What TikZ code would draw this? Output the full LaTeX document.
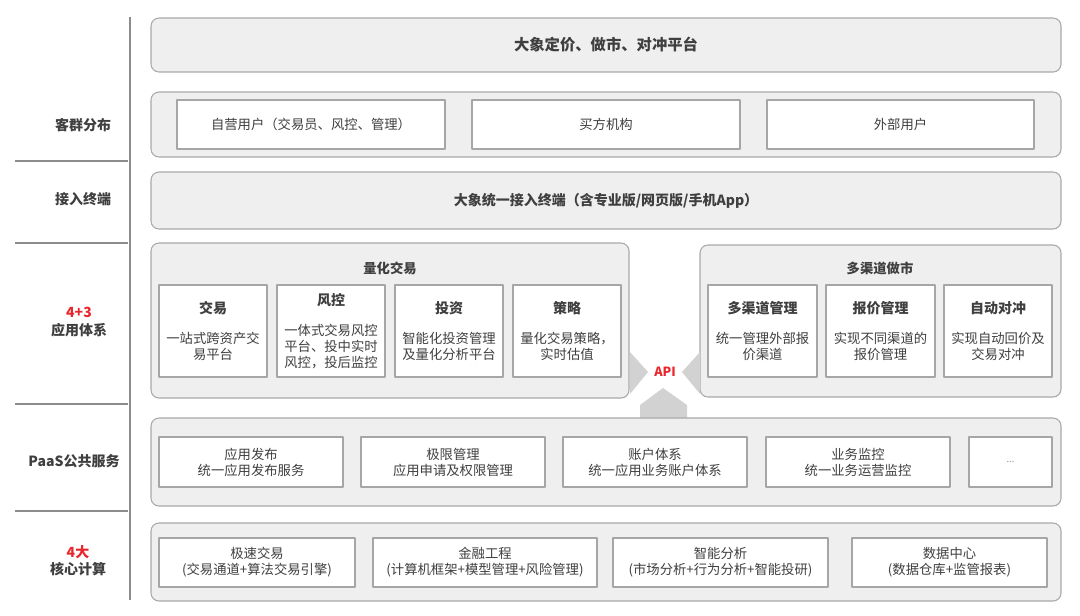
\documentclass[tikz,border=0pt]{standalone}
\usepackage{fontspec}
\setmainfont{Noto Sans CJK SC}
\usetikzlibrary{fit}
\definecolor{inkgray}{HTML}{3F3F3F}
\definecolor{panelfill}{HTML}{EFEFEF}
\definecolor{panelline}{HTML}{A9A9A9}
\definecolor{cellline}{HTML}{A6A6A6}
\definecolor{rulegray}{HTML}{8C8C8C}
\definecolor{apigray}{HTML}{D2D2D2}
\definecolor{hired}{HTML}{E8262B}
\begin{document}
\begin{tikzpicture}[x=0.75pt, y=-0.75pt, line join=round,
    panel/.style={draw=panelline, fill=panelfill, line width=0.8pt, rounded corners=6pt, inner sep=0pt},
    cell/.style={draw=cellline, fill=white, line width=0.8pt, inner sep=0pt},
    ttl/.style={font=\fontsize{10.5}{13}\selectfont\bfseries, text=inkgray},
    side/.style={font=\fontsize{10.5}{13}\selectfont\bfseries, text=inkgray, align=center},
    lbl/.style={font=\fontsize{10}{12}\selectfont, text=inkgray, align=center}]
  \path[use as bounding box] (0,0) rectangle (1080,615);
  % left column
  \draw[rulegray, line width=1.1pt] (130,17) -- (130,600);
  \foreach \y in {161,243,404,511} \draw[rulegray, line width=1.1pt] (15,\y) -- (128,\y);
  \node[side] (sKunden) at (83,125) {客群分布};
  \node[side] (sTerm) at (83,199) {接入终端};
  \node[side] (sApp) at (79,322) {{\color{hired}4+3}\\应用体系};
  \node[side] (sPaas) at (74,461) {PaaS公共服务};
  \node[side] (sCore) at (78,561) {{\color{hired}4大}\\核心计算};
  % platform
  \node[panel, fit={(151,18) (1061,72)}] (plat) {};
  \node[ttl, font=\fontsize{11.5}{14}\selectfont\bfseries] at (plat.center) {大象定价、做市、对冲平台};
  % customers
  \node[panel, fit={(151,92) (1061,157)}] (kunden) {};
  \node[cell, fit={(177,100) (445,149)}] (k1) {};
  \node[cell, fit={(472,100) (740,149)}] (k2) {};
  \node[cell, fit={(767,100) (1034,149)}] (k3) {};
  \node[lbl] at (k1.center) {自营用户（交易员、风控、管理）};
  \node[lbl] at (k2.center) {买方机构};
  \node[lbl] at (k3.center) {外部用户};
  % terminal
  \node[panel, fit={(151,172) (1061,229)}] (term) {};
  \node[ttl] at (term.center) {大象统一接入终端（含专业版/网页版/手机App）};
  % quant trading
  \node[panel, fit={(151,243) (629,398)}] (quant) {};
  \node[ttl, font=\fontsize{10}{12}\selectfont\bfseries] at (390,268) {量化交易};
  \node[cell, fit={(159,285) (267,377)}] (q1) {};
  \node[cell, fit={(277,285) (385,377)}] (q2) {};
  \node[cell, fit={(395,285) (503,377)}] (q3) {};
  \node[cell, fit={(513,285) (621,377)}] (q4) {};
  \node[lbl] at (q1.center) {{\bfseries\fontsize{10.5}{12}\selectfont 交易}\\[10.5pt]一站式跨资产交\\易平台};
  \node[lbl] at (q2.center) {{\bfseries\fontsize{10.5}{12}\selectfont 风控}\\[10.5pt]一体式交易风控\\平台、投中实时\\风控，投后监控};
  \node[lbl] at (q3.center) {{\bfseries\fontsize{10.5}{12}\selectfont 投资}\\[10.5pt]智能化投资管理\\及量化分析平台};
  \node[lbl] at (q4.center) {{\bfseries\fontsize{10.5}{12}\selectfont 策略}\\[10.5pt]量化交易策略，\\实时估值};
  % market making
  \node[panel, fit={(700,245) (1061,397)}] (mm) {};
  \node[ttl, font=\fontsize{10}{12}\selectfont\bfseries] at (880,268) {多渠道做市};
  \node[cell, fit={(708,285) (817,377)}] (m1) {};
  \node[cell, fit={(826,285) (935,377)}] (m2) {};
  \node[cell, fit={(944,285) (1052,377)}] (m3) {};
  \node[lbl] at (m1.center) {{\bfseries\fontsize{10.5}{12}\selectfont 多渠道管理}\\[10.5pt]统一管理外部报\\价渠道};
  \node[lbl] at (m2.center) {{\bfseries\fontsize{10.5}{12}\selectfont 报价管理}\\[10.5pt]实现不同渠道的\\报价管理};
  \node[lbl] at (m3.center) {{\bfseries\fontsize{10.5}{12}\selectfont 自动对冲}\\[10.5pt]实现自动回价及\\交易对冲};
  % API
  \coordinate (aL1) at (630,352); \coordinate (aL2) at (648,372); \coordinate (aL3) at (630,394);
  \coordinate (aR1) at (700,352); \coordinate (aR2) at (682,372); \coordinate (aR3) at (700,394);
  \coordinate (aB1) at (640,418); \coordinate (aB2) at (640,405); \coordinate (aB3) at (663,388);
  \coordinate (aB4) at (687,405); \coordinate (aB5) at (687,418);
  \fill[apigray] (aL1) -- (aL2) -- (aL3) -- cycle;
  \fill[apigray] (aR1) -- (aR2) -- (aR3) -- cycle;
  \fill[apigray] (aB1) -- (aB2) -- (aB3) -- (aB4) -- (aB5) -- cycle;
  \node[font=\fontsize{9.5}{11}\selectfont\bfseries, text=hired] (api) at (665,372) {API};
  % paas
  \node[panel, fit={(151,418) (1061,506)}] (paas) {};
  \node[cell, fit={(159,437) (343,487)}] (p1) {};
  \node[cell, fit={(361,437) (545,487)}] (p2) {};
  \node[cell, fit={(563,437) (747,487)}] (p3) {};
  \node[cell, fit={(766,437) (950,487)}] (p4) {};
  \node[cell, fit={(969,437) (1052,487)}] (p5) {};
  \node[lbl] at (p1.center) {应用发布\\统一应用发布服务};
  \node[lbl] at (p2.center) {极限管理\\应用申请及权限管理};
  \node[lbl] at (p3.center) {账户体系\\统一应用业务账户体系};
  \node[lbl] at (p4.center) {业务监控\\统一业务运营监控};
  \node[lbl, text=inkgray!60, font=\fontsize{7}{8}\selectfont] at (p5.center) {...};
  % core computing
  \node[panel, fit={(151,523) (1061,601)}] (core) {};
  \node[cell, fit={(159,538) (355,587)}] (c1) {};
  \node[cell, fit={(373,538) (597,587)}] (c2) {};
  \node[cell, fit={(613,538) (828,587)}] (c3) {};
  \node[cell, fit={(852,538) (1047,587)}] (c4) {};
  \node[lbl] at (c1.center) {极速交易\\(交易通道+算法交易引擎)};
  \node[lbl] at (c2.center) {金融工程\\(计算机框架+模型管理+风险管理)};
  \node[lbl] at (c3.center) {智能分析\\(市场分析+行为分析+智能投研)};
  \node[lbl] at (c4.center) {数据中心\\(数据仓库+监管报表)};
\end{tikzpicture}
\end{document}
